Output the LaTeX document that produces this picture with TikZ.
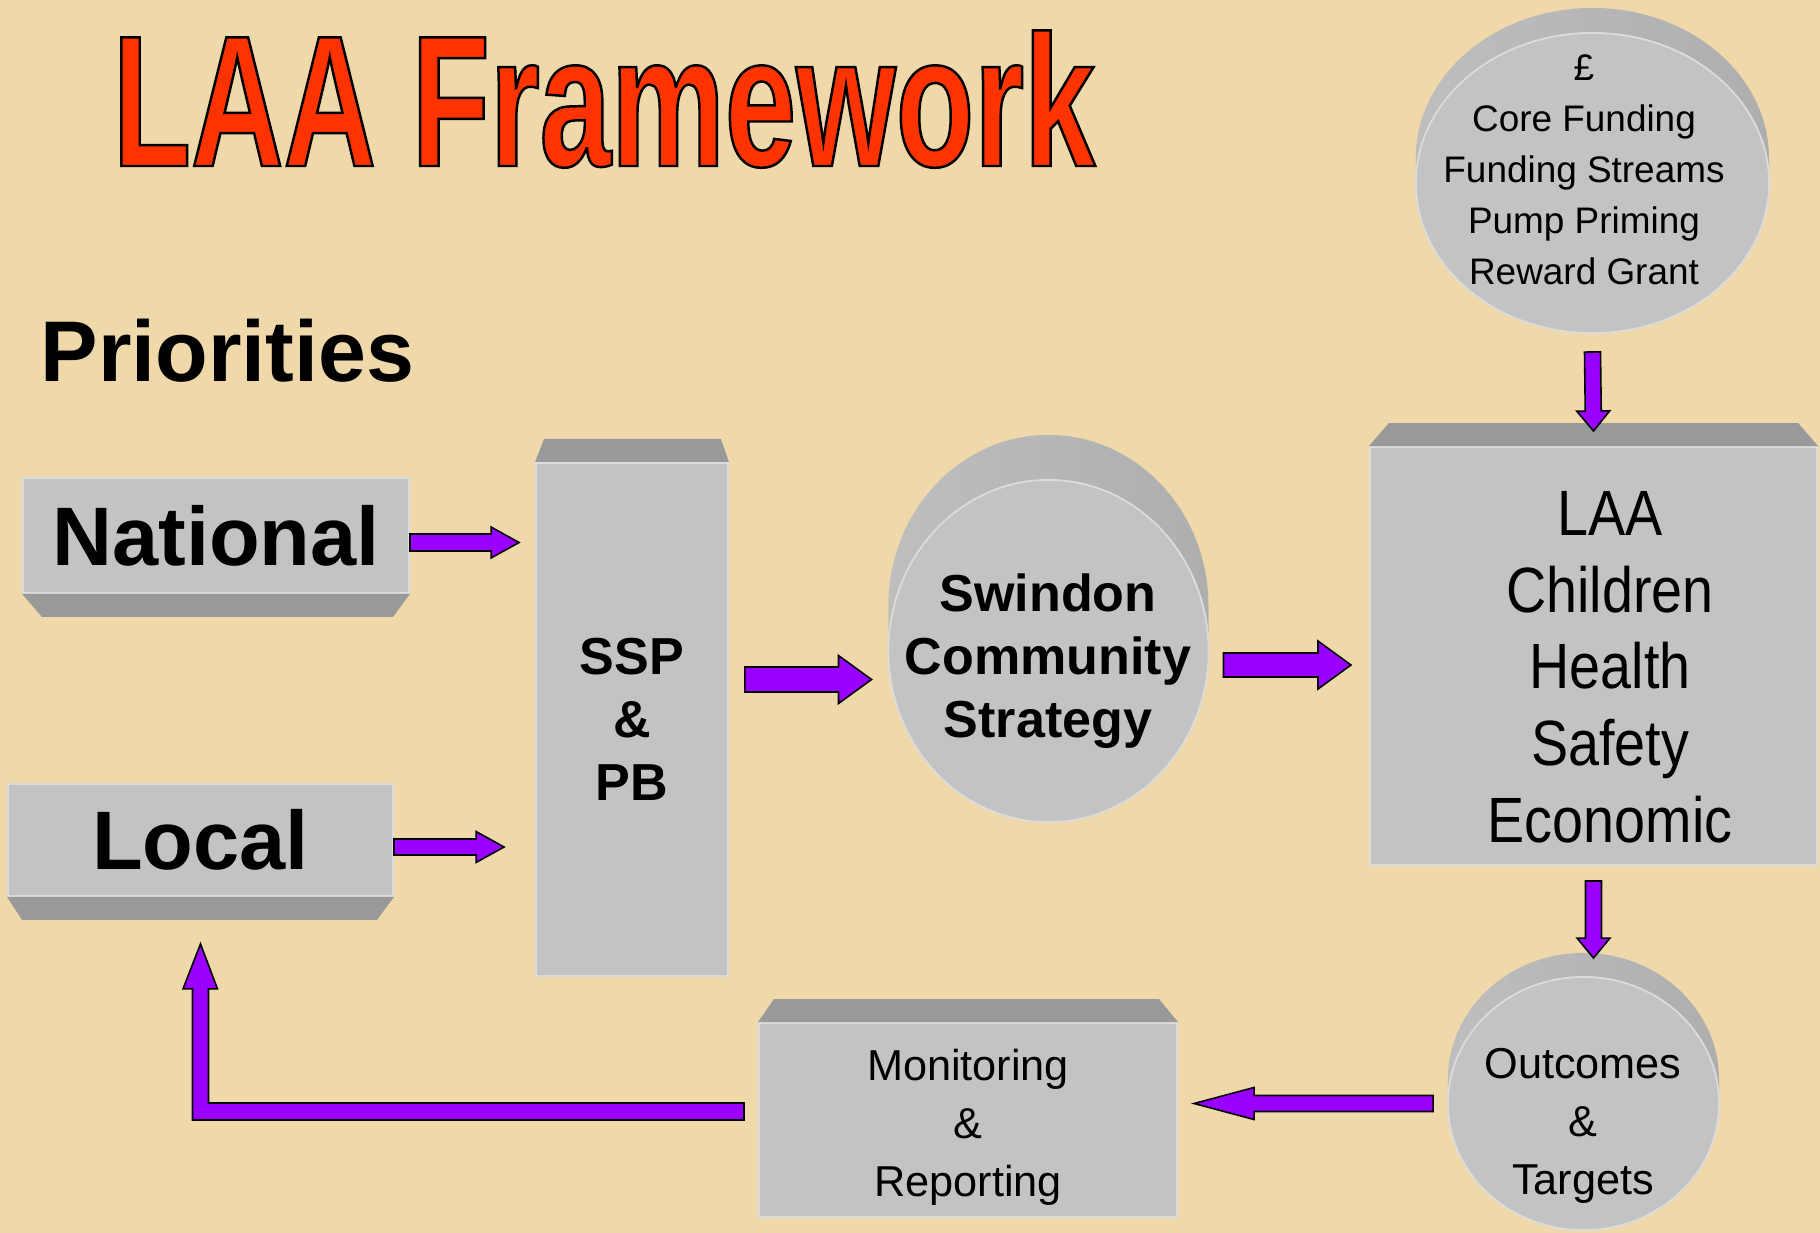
\documentclass[tikz,border=0pt]{standalone}
\usepackage{fontspec}
\setmainfont{Liberation Sans}
\newfontfamily\titlefont[FakeStretch=0.685]{Liberation Sans}
\newfontfamily\narrowfont[FakeStretch=0.87]{Liberation Sans}
\usetikzlibrary{calc,shapes.geometric}

\definecolor{paper}{HTML}{EFD8AA}
\definecolor{facegray}{HTML}{C3C3C3}
\definecolor{bevelgray}{HTML}{999999}
\definecolor{rimgray}{HTML}{DCDCDC}
\definecolor{sidelight}{HTML}{BEBEBE}
\definecolor{sidedark}{HTML}{929292}
\definecolor{sidemid}{HTML}{AEAEAE}
\definecolor{arrowviolet}{HTML}{9900FF}
\definecolor{titlered}{HTML}{FF3300}

% filled and outlined glyphs
\newcommand\outlined[1]{\special{pdf:literal direct 0 0 0 RG 0.7 w 2 Tr}#1\special{pdf:literal direct 0 Tr}}

\tikzset{
  arrshaft/.store in=\arrshaft, arrshaft=0.8mm,
  arrhead/.store in=\arrhead, arrhead=1.6mm,
  arrlen/.store in=\arrlen, arrlen=2.8mm,
  arrowpaint/.style={fill=arrowviolet,draw=black,line width=0.45pt,line join=miter},
  block arrow/.style={arrowpaint,to path={
    ($(\tikztostart)!\arrshaft!90:(\tikztotarget)$)
    -- ($($(\tikztotarget)!\arrlen!(\tikztostart)$)!\arrshaft!90:(\tikztotarget)$)
    -- ($($(\tikztotarget)!\arrlen!(\tikztostart)$)!\arrhead!90:(\tikztotarget)$)
    -- (\tikztotarget)
    -- ($($(\tikztotarget)!\arrlen!(\tikztostart)$)!\arrhead!-90:(\tikztotarget)$)
    -- ($($(\tikztotarget)!\arrlen!(\tikztostart)$)!\arrshaft!-90:(\tikztotarget)$)
    -- ($(\tikztostart)!\arrshaft!-90:(\tikztotarget)$)
    -- cycle}}
}

\begin{document}
\begin{tikzpicture}[x=0.01cm,y=-0.01cm,
    box/.style={rectangle,fill=facegray,draw=rimgray,line width=0.5pt,inner sep=0pt,align=center},
    disc/.style={ellipse,fill=facegray,draw=rimgray,line width=0.5pt,inner sep=0pt},
    bevel/.style={fill=bevelgray},
    side/.style={left color=sidelight,middle color=sidedark,right color=sidemid},
    bigbold/.style={font=\bfseries\fontsize{23.6}{28}\selectfont},
    midbold/.style={font=\bfseries\fontsize{14.8}{17.9}\selectfont,align=center,inner sep=0pt},
    laatext/.style={font=\narrowfont\fontsize{18.2}{21.8}\selectfont,align=center,inner sep=0pt},
    fundtext/.style={font=\fontsize{10.5}{14.5}\selectfont,align=center,inner sep=0pt},
    smalltext/.style={font=\fontsize{12.3}{16.5}\selectfont,align=center,inner sep=0pt}]

  % paper
  \useasboundingbox (0,0) rectangle (1820,1233);
  \fill[paper] (0,0) rectangle (1820,1233);

  % discs: depth first, then the face
  \path[side] (1208.5,651) -- (1208.5,606) arc[start angle=0,end angle=180,x radius=1.6cm,y radius=1.71cm] -- (888.5,651) -- cycle;
  \node[disc,minimum width=32mm,minimum height=34.2mm] (swindon) at (1048.5,651) {};
  \path[side] (1769,183) -- (1769,158) arc[start angle=0,end angle=180,x radius=1.765cm,y radius=1.5cm] -- (1416,183) -- cycle;
  \node[disc,minimum width=35.3mm,minimum height=30mm] (funding) at (1592.5,183) {};
  \path[side] (1719,1103.5) -- (1719,1079.5) arc[start angle=0,end angle=180,x radius=1.355cm,y radius=1.265cm] -- (1448,1103.5) -- cycle;
  \node[disc,minimum width=27.1mm,minimum height=25.3mm] (outcomes) at (1583.5,1103.5) {};

  % boxes
  \node[box,bigbold,minimum width=38.6mm,minimum height=11.5mm] (national) at (216,535.5) {National};
  \node[box,bigbold,minimum width=38.5mm,minimum height=11.2mm] (local) at (200.5,840) {Local};
  \node[box,midbold,minimum width=19.2mm,minimum height=51.3mm] (ssp) at (632,719.5) {SSP\\\&\\PB};
  \node[box,minimum width=44.7mm,minimum height=41.8mm] (laa) at (1593.5,656) {};
  \node[box,minimum width=41.8mm,minimum height=19.4mm] (monitoring) at (968,1120) {};

  % bevels
  \fill[bevel] (national.south west) -- (national.south east) -- ($(national.south east)+(-17,23)$) -- ($(national.south west)+(20,23)$) -- cycle;
  \fill[bevel] (local.south west) -- (local.south east) -- ($(local.south east)+(-17,23)$) -- ($(local.south west)+(15,23)$) -- cycle;
  \fill[bevel] (ssp.north west) -- (ssp.north east) -- ($(ssp.north east)+(-8,-23)$) -- ($(ssp.north west)+(9,-23)$) -- cycle;
  \fill[bevel] (laa.north west) -- (laa.north east) -- ($(laa.north east)+(-20,-23)$) -- ($(laa.north west)+(20,-23)$) -- cycle;
  \fill[bevel] (monitoring.north west) -- (monitoring.north east) -- ($(monitoring.north east)+(-19,-23)$) -- ($(monitoring.north west)+(16,-23)$) -- cycle;

  % texts
  \node[midbold] (swindon-text) at (1048,661) {Swindon\\Community\\Strategy};
  \node[laatext] (laa-text) at (1610,667) {LAA\\Children\\Health\\Safety\\Economic};
  \node[fundtext] (funding-text) at (1584,170) {£\\Core Funding\\Funding Streams\\Pump Priming\\Reward Grant};
  \node[smalltext] (monitoring-text) at (968,1127.5) {Monitoring\\\&\\Reporting};
  \node[smalltext] (outcomes-text) at (1583,1126) {Outcomes\\\&\\Targets};
  \node[anchor=base west,inner sep=0pt,font=\bfseries\fontsize{24.5}{29}\selectfont] (priorities) at (40,381) {Priorities};

  % arrows
  \coordinate (nat-tail) at ($(national.east)+(0,7)$);
  \coordinate (nat-tip) at ($(ssp.west |- nat-tail)+(-16,0)$);
  \coordinate (loc-tail) at ($(local.east)+(0,7)$);
  \coordinate (loc-tip) at ($(ssp.west |- loc-tail)+(-31,0)$);
  \coordinate (ssp-tail) at ($(ssp.east)+(16,-40)$);
  \coordinate (ssp-tip) at ($(swindon.west |- ssp-tail)+(-16,0)$);
  \coordinate (sw-tail) at ($(swindon.east)+(14,14)$);
  \coordinate (sw-tip) at ($(laa.west |- sw-tail)+(-18,0)$);
  \coordinate (fund-tail) at ($(funding.south)+(0,18)$);
  \coordinate (fund-tip) at ($(laa.north)+(0,-15)$);
  \coordinate (laa-tail) at ($(laa.south)+(0,15)$);
  \coordinate (laa-tip) at ($(laa.south |- outcomes.north)+(0,-18)$);
  \coordinate (out-tail) at ($(outcomes.west)+(-14,0)$);
  \coordinate (out-tip) at ($(monitoring.east |- out-tail)+(16,0)$);
  \coordinate (fb-tail) at ($(monitoring.west)+(-14,-8.5)$);
  \coordinate (fb-tip) at ($(local.south)+(0,47)$);

  \draw[block arrow,arrshaft=0.85mm,arrhead=1.55mm,arrlen=2.8mm] (nat-tail) to (nat-tip);
  \draw[block arrow,arrshaft=0.8mm,arrhead=1.55mm,arrlen=2.8mm] (loc-tail) to (loc-tip);
  \draw[block arrow,arrshaft=1.25mm,arrhead=2.4mm,arrlen=3.3mm] (ssp-tail) to (ssp-tip);
  \draw[block arrow,arrshaft=1.2mm,arrhead=2.4mm,arrlen=3.3mm] (sw-tail) to (sw-tip);
  \draw[block arrow,arrshaft=0.8mm,arrhead=1.65mm,arrlen=2mm] (fund-tail) to (fund-tip);
  \draw[block arrow,arrshaft=0.8mm,arrhead=1.65mm,arrlen=2mm] (laa-tail) to (laa-tip);
  \draw[block arrow,arrshaft=0.8mm,arrhead=1.6mm,arrlen=6mm] (out-tail) to (out-tip);
  \draw[arrowpaint] ($(fb-tail)+(0,-8.5)$) -| ($(fb-tip)+(8,45)$) -- ++(9,0) -- (fb-tip)
    -- ++(-17.5,45) -- ++(9.5,0) |- ($(fb-tail)+(0,8.5)$) -- cycle;

  % title
  \node[anchor=base west,inner sep=0pt,text=titlered,font=\titlefont\bfseries\fontsize{53.2}{60}\selectfont] (title) at (112,166) {\outlined{LAA Framework}};
\end{tikzpicture}
\end{document}
